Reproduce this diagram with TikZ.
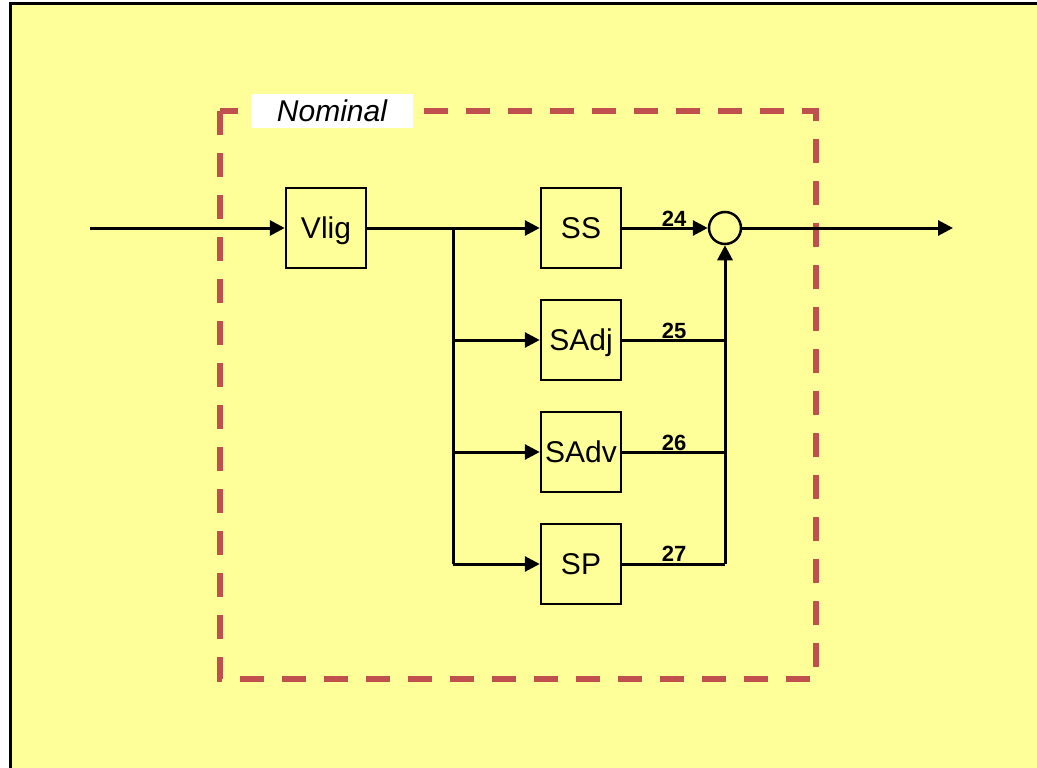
\documentclass[tikz,border=0pt]{standalone}
\usepackage{fontspec}
\setmainfont{Liberation Sans}
\usetikzlibrary{arrows.meta}
\definecolor{bgyellow}{HTML}{FFFF99}
\definecolor{dashred}{HTML}{C0504D}
\begin{document}
\begin{tikzpicture}[x=1pt,y=-1pt,
  blk/.style={draw=black,line width=2.5pt,minimum width=80pt,minimum height=80pt,inner sep=0pt,text height=21.5pt,text depth=0pt,font=\fontsize{30}{34}\selectfont},
  conn/.style={line width=3pt},
  arr/.style={conn,-{Triangle[length=15pt,width=15pt]}},
  num/.style={font=\bfseries\fontsize{22}{26}\selectfont,inner sep=0pt,text height=16pt,text depth=0pt}]
\useasboundingbox (0,0) rectangle (1037,768);
\fill[bgyellow] (10,4) rectangle (1037,768);
\draw[line width=3pt] (10,768) -- (10,4) -- (1037,4);
% dashed frame
\draw[dashred,line width=6pt,dash pattern=on 24pt off 18pt] (220,111) rectangle (816,679);
\node[fill=white,minimum width=162pt,minimum height=34pt,inner sep=0pt,text height=21pt,text depth=0pt,font=\itshape\fontsize{30}{34}\selectfont] (nom) at (332,111) {Nominal};
% blocks
\node[blk] (vlig) at (326,228) {Vlig};
\node[blk] (ss) at (581,228) {SS};
\node[blk] (sadj) at (581,340) {SAdj};
\node[blk] (sadv) at (581,452) {SAdv};
\node[blk] (sp) at (581,564) {SP};
\node[draw=black,line width=2.5pt,circle,minimum size=32pt,inner sep=0pt] (sum) at (725,228) {};
\coordinate (in) at (90,228);
\coordinate (out) at (953,228);
\coordinate (bx) at (453,228);
\coordinate (b2) at (453,340);
\coordinate (b3) at (453,452);
\coordinate (b4) at (453,564);
\coordinate (r2) at (725,340);
\coordinate (r3) at (725,452);
\coordinate (r4) at (725,564);
% connectors
\draw[arr] (in) -- (vlig.west);
\draw[arr] (vlig.east) -- (ss.west);
\draw[conn] (bx) -- (b4);
\draw[arr] (b2) -- (sadj.west);
\draw[arr] (b3) -- (sadv.west);
\draw[arr] (b4) -- (sp.west);
\draw[arr] (ss.east) -- (sum.west);
\draw[conn] (sadj.east) -- (r2);
\draw[conn] (sadv.east) -- (r3);
\draw[conn] (sp.east) -- (r4);
\draw[arr] (r4) -- (sum.south);
\draw[arr] (sum.east) -- (out);
% labels
\node[num] (l24) at (674,218) {24};
\node[num] (l25) at (674,330) {25};
\node[num] (l26) at (674,442) {26};
\node[num] (l27) at (674,553) {27};
\end{tikzpicture}
\end{document}
